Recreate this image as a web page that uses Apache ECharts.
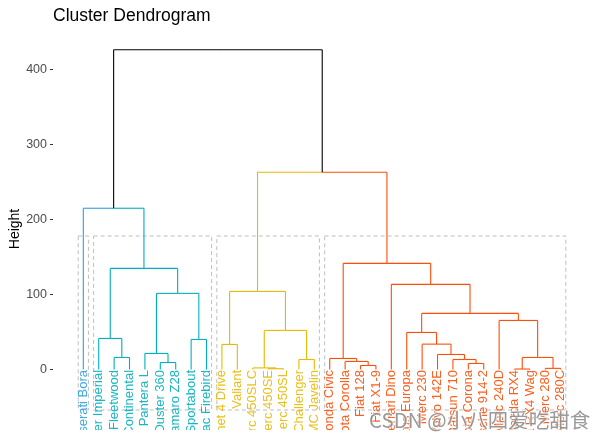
<!DOCTYPE html>
<html>
<head>
<meta charset="utf-8">
<script src="https://cdn.jsdelivr.net/npm/echarts@6/dist/echarts.min.js"></script>
<style>
html,body{margin:0;padding:0;background:#fff;}
#chart{width:597px;height:439px;}
</style>
</head>
<body>
<div id="chart"></div>
<script>
// Leaf labels in dendrogram order
const leafLabels = ["Maserati Bora","Chrysler Imperial","Cadillac Fleetwood","Lincoln Continental","Ford Pantera L","Duster 360","Camaro Z28","Hornet Sportabout","Pontiac Firebird","Hornet 4 Drive","Valiant","Merc 450SLC","Merc 450SE","Merc 450SL","Dodge Challenger","AMC Javelin","Honda Civic","Toyota Corolla","Fiat 128","Fiat X1-9","Ferrari Dino","Lotus Europa","Merc 230","Volvo 142E","Datsun 710","Toyota Corona","Porsche 914-2","Merc 240D","Mazda RX4","Mazda RX4 Wag","Merc 280","Merc 280C"];
// cluster of each leaf (k = 4)
const leafCluster = [0,1,1,1,1,1,1,1,1,2,2,2,2,2,2,2,3,3,3,3,3,3,3,3,3,3,3,3,3,3,3,3];
const clusterColors = ["#2E9FDF","#00AFBB","#E7B800","#FC4E07"];
// merges: [left, right, height]; negative = leaf position (1-based), positive = merge step (1-based)
const merges = [
  [-13,-14,1.0],
  [-12,1,2.1],
  [-29,-30,0.6],
  [-31,-32,1.5],
  [-19,-20,5.3],
  [-26,-27,8.0],
  [-6,-7,9.3],
  [-18,5,10.7],
  [-15,-16,13.3],
  [-25,6,13.3],
  [-17,8,14.7],
  [-3,-4,16.0],
  [3,4,16.0],
  [-24,10,20.0],
  [-5,7,21.4],
  [-10,-11,33.4],
  [-23,14,33.8],
  [-8,-9,40.0],
  [-2,12,41.4],
  [-22,17,49.4],
  [2,9,52.1],
  [-28,13,65.4],
  [20,22,74.8],
  [15,18,101.5],
  [16,21,104.1],
  [-21,23,113.5],
  [19,24,134.8],
  [11,26,141.5],
  [-1,27,215.0],
  [25,28,263.0],
  [29,30,426.4]
];
const yTicks = [0,100,200,300,400];
const rectTop = 178, rectBottom = -54;

// compute node positions
const nodes = [];
function info(ref){
  if (ref < 0) { const i = -ref; return {x:i, h:0, cl:leafCluster[i-1]}; }
  return nodes[ref-1];
}
merges.forEach(m => {
  const a = info(m[0]), b = info(m[1]);
  nodes.push({x:(a.x+b.x)/2, h:m[2], cl:(a.cl===b.cl ? a.cl : -1)});
});
const segs = [];
merges.forEach((m, k) => {
  const p = nodes[k];
  [m[0], m[1]].forEach(ref => {
    const c = info(ref);
    const col = c.cl >= 0 ? c.cl : 4;
    segs.push([p.x, p.h, c.x, p.h, col]);
    segs.push([c.x, p.h, c.x, c.h, col]);
  });
});
const palette = clusterColors.concat(["#000000"]);
const labelData = leafLabels.map((l,i) => [i+1, 0, leafCluster[i]]);
// rectangles per cluster
const rects = [];
clusterColors.forEach((c, ci) => {
  let s = null, e = null;
  leafCluster.forEach((v,i) => { if (v===ci){ if(s===null) s=i+1; e=i+1; } });
  rects.push([s-0.33, rectTop, e+0.33, rectBottom]);
});

const chart = echarts.init(document.getElementById('chart'), null, {renderer:'canvas'});
chart.setOption({
  animation:false,
  backgroundColor:'#fff',
  grid:{left:53, right:7, top:32, bottom:9, containLabel:false},
  xAxis:{type:'value', min:-0.968, max:33.9, show:false},
  yAxis:{type:'value', min:-80.7, max:450,
    axisLine:{show:false, onZero:false},
    splitLine:{show:false},
    axisTick:{show:true, length:3, lineStyle:{color:'#333333'}, customValues:yTicks},
    axisLabel:{color:'#4D4D4D', fontSize:12.5, fontFamily:'Liberation Sans, Arial', margin:6, customValues:yTicks}
  },
  graphic:[
    {type:'text', left:53, top:7, style:{text:'Cluster Dendrogram', font:'17.5px "Liberation Sans", Arial', fill:'#000'}},
    {type:'text', x:15, y:229, rotation:Math.PI/2, style:{text:'Height', font:'14px "Liberation Sans", Arial', fill:'#000', align:'center', verticalAlign:'middle'}},
    {type:'text', x:369, y:420, z:100, style:{text:'CSDN @小八四爱吃甜食', font:'20.5px "Noto Sans CJK SC", "Liberation Sans", sans-serif', fill:'rgba(100,100,100,0.65)', stroke:'rgba(255,255,255,0.7)', lineWidth:2, align:'left', verticalAlign:'middle'}}
  ],
  series:[
    {type:'custom', clip:true, data:rects, silent:true,
      renderItem:function(params, api){
        const p1 = api.coord([api.value(0), api.value(1)]);
        const p2 = api.coord([api.value(2), api.value(3)]);
        return {type:'rect', shape:{x:p1[0], y:p1[1], width:p2[0]-p1[0], height:p2[1]-p1[1]},
          style:{fill:null, stroke:'#BEBEBE', lineWidth:1, lineDash:[4,3]}};
      }},
    {type:'custom', clip:true, data:segs, silent:true,
      renderItem:function(params, api){
        const p1 = api.coord([api.value(0), api.value(1)]);
        const p2 = api.coord([api.value(2), api.value(3)]);
        return {type:'line', shape:{x1:p1[0], y1:p1[1], x2:p2[0], y2:p2[1]},
          style:{stroke:palette[api.value(4)], lineWidth:1.1}};
      }},
    {type:'custom', clip:true, data:labelData, silent:true,
      renderItem:function(params, api){
        const p = api.coord([api.value(0), api.value(1)]);
        return {type:'text', x:p[0], y:p[1]+0.5, rotation:Math.PI/2,
          style:{text:leafLabels[params.dataIndex], fill:clusterColors[api.value(2)], opacity:0.9,
            font:'13px "Liberation Sans", Arial', align:'right', verticalAlign:'middle'}};
      }}
  ]
});
</script>
</body>
</html>
